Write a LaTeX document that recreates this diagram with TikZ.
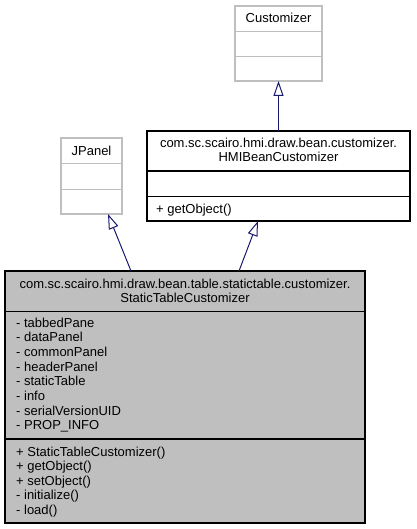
\documentclass[tikz,border=0pt]{standalone}
\usepackage{fontspec}
\setmainfont{Liberation Sans}
\usetikzlibrary{arrows.meta, calc}
\definecolor{edgeblue}{HTML}{191970}
\definecolor{boxgray}{HTML}{BFBFBF}
\tikzset{every node/.append style = {font=\fontsize{13}{15}\selectfont}}
\tikzset{classbox/.style = {draw=black, line width=1.2pt, inner sep=0pt, outer sep=0pt, anchor=north west}}
\tikzset{extbox/.style = {classbox, draw=boxgray}}
\tikzset{member/.style = {anchor=base west, inner sep=0pt}}
\tikzset{classname/.style = {anchor=base, inner sep=0pt}}
\tikzset{inherit/.style = {draw=edgeblue, line width=1pt, -{Triangle[open, length=15pt, width=10pt]}}}

\begin{document}
\begin{tikzpicture}[x=1pt, y=-1pt]
\useasboundingbox (0,0) rectangle (416,529);
\node [extbox, minimum width=87, minimum height=75] (cust) at (235,6) {};
\draw [boxgray, line width=1.2pt] ($(cust.north west)+(0,25.5)$) -- ++(87,0);
\draw [boxgray, line width=1.2pt] ($(cust.north west)+(0,50.5)$) -- ++(87,0);
\node [classname] (custname) at (278.5,22.5) {Customizer};
\node [extbox, minimum width=61, minimum height=76] (jpanel) at (61,138) {};
\draw [boxgray, line width=1.2pt] ($(jpanel.north west)+(0,25.5)$) -- ++(61,0);
\draw [boxgray, line width=1.2pt] ($(jpanel.north west)+(0,51.5)$) -- ++(61,0);
\node [classname] (jpanelname) at (91.5,156) {JPanel};
\node [classbox, minimum width=263, minimum height=90] (hmi) at (147,131) {};
\draw [line width=1.2pt] ($(hmi.north west)+(0,40)$) -- ++(263,0);
\draw [line width=1.2pt] ($(hmi.north west)+(0,65.5)$) -- ++(263,0);
\node [classname] (hmipkg) at (278.5,148) {com.sc.scairo.hmi.draw.bean.customizer.};
\node [classname] (hminame) at (278.5,162) {HMIBeanCustomizer};
\node [member] (hmiop) at (156,213) {+ getObject()};
\node [classbox, fill=boxgray, minimum width=360, minimum height=252] (stc) at (5,271) {};
\draw [line width=1.2pt] ($(stc.north west)+(0,40.5)$) -- ++(360,0);
\draw [line width=1.2pt] ($(stc.north west)+(0,168)$) -- ++(360,0);
\node [classname] (stcpkg) at (185,288) {com.sc.scairo.hmi.draw.bean.table.statictable.customizer.};
\node [classname] (stcname) at (185,302) {StaticTableCustomizer};
\foreach \t [count=\i from 0] in {- tabbedPane, - dataPanel, - commonPanel, - headerPanel, - staticTable, - info, - serialVersionUID, - PROP\_INFO}
  \node [member] (attr\i) at (16,327+14.7*\i) {\t};
\foreach \t [count=\i from 0] in {+ StaticTableCustomizer(), + getObject(), + setObject(), - initialize(), - load()}
  \node [member] (op\i) at (16,456+14.5*\i) {\t};
\draw [inherit] (hmi.north) -- (cust.south);
\draw [inherit] ($(stc.north west)+(126,0)$) -- ($(jpanel.south west)+(47,0)$);
\draw [inherit] ($(stc.north west)+(234,0)$) -- ($(hmi.south west)+(111,0)$);
\end{tikzpicture}
\end{document}
